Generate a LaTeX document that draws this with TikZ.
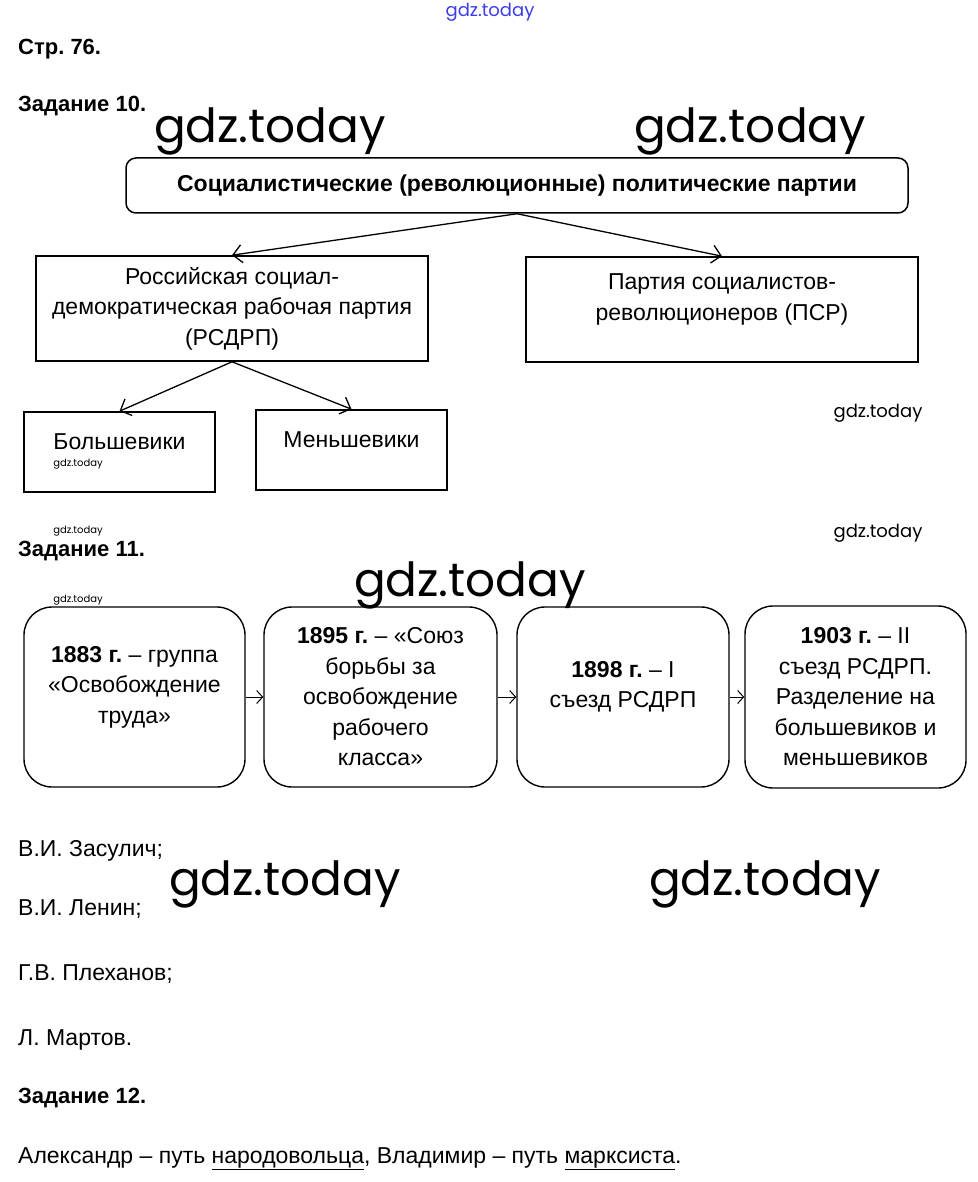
\documentclass[tikz,border=0pt]{standalone}
\usepackage{fontspec}
\setmainfont{Liberation Sans}
\newfontfamily\wmfont{Poppins}
\usetikzlibrary{positioning, arrows.meta}
\frenchspacing

\definecolor{wmblue}{RGB}{60,60,235}

\tikzstyle{startstop} = [
    rectangle,
    rounded corners=10pt,
    minimum width=782pt,
    minimum height=55pt,
    line width=1.5pt,
    draw=black,
    font=\bfseries\fontsize{23}{26}\selectfont
]
\tikzstyle{process} = [
    rectangle,
    minimum width=392pt,
    minimum height=105pt,
    line width=1.6pt,
    draw=black
]
\tikzstyle{event} = [
    rectangle,
    rounded corners=28pt,
    minimum height=180pt,
    line width=1.4pt,
    draw=black
]
\tikzstyle{inbox} = [
    align=center,
    inner sep=0pt,
    font=\fontsize{23}{30.5}\selectfont
]
\tikzstyle{heading} = [anchor=base west, inner sep=0pt, font=\bfseries\fontsize{22}{26}\selectfont]
\tikzstyle{plain} = [anchor=base west, inner sep=0pt, font=\fontsize{23}{26}\selectfont]
\tikzstyle{wmbig} = [inner sep=0pt, font=\wmfont\fontsize{47}{47}\selectfont]
\tikzstyle{wmmid} = [inner sep=0pt, font=\wmfont\fontsize{18}{18}\selectfont]
\tikzstyle{wmsmall} = [inner sep=0pt, font=\wmfont\fontsize{10}{10}\selectfont]
\tikzstyle{arrow} = [line width=1.3pt,-{Straight Barb[length=9pt,width=18pt]}]
\tikzstyle{smallarrow} = [line width=1pt,-{Straight Barb[length=6pt,width=13pt]}]

\begin{document}
\begin{tikzpicture}[x=1pt, y=-1pt]
\useasboundingbox (0,0) rectangle (977,1182);
\fill[white] (0,0) rectangle (977,1182);

% watermarks
\node (wmtop) [wmmid, text=wmblue] at (490,12) {gdz.today};
\node (wma) [wmbig] at (270,131) {gdz.today};
\node (wmb) [wmbig] at (750,131) {gdz.today};
\node (wmc) [wmbig] at (470,585) {gdz.today};
\node (wmd) [wmbig] at (285,884) {gdz.today};
\node (wme) [wmbig] at (765,884) {gdz.today};
\node (wmf) [wmmid] at (878,413) {gdz.today};
\node (wmg) [wmmid] at (878,533) {gdz.today};
\node (wmh) [wmsmall] at (78,464) {gdz.today};
\node (wmi) [wmsmall] at (78,531) {gdz.today};
\node (wmj) [wmsmall] at (78,600) {gdz.today};

% task 10
\node (page) [heading] at (18,55) {Стр. 76.};
\node (task10) [heading] at (18,112) {Задание 10.};

\node (parties) [startstop] at (517,185.5)
{Социалистические (революционные) политические партии};

\node (rsdrp) [process, label={[inbox]center:{Российская социал-\\демократическая рабочая партия\\(РСДРП)}}]
at (232,308.5) {};

\node (psr) [process, label={[inbox,yshift=10pt]center:{Партия социалистов-\\революционеров (ПСР)}}]
at (722,309.5) {};

\node (bolsh) [process, minimum width=191pt, minimum height=80pt,
label={[inbox,yshift=10pt]center:Большевики}] at (119.5,452) {};

\node (mensh) [process, minimum width=191pt, minimum height=80pt,
right=39.4pt of bolsh, yshift=2pt,
label={[inbox,yshift=10pt]center:Меньшевики}] {};

\draw [arrow] (parties.south) -- (rsdrp.north);
\draw [arrow] (parties.south) -- (psr.north);
\draw [arrow] (rsdrp.south) -- (bolsh.north);
\draw [arrow] (rsdrp.south) -- (mensh.north);

% task 11
\node (task11) [heading] at (18,556) {Задание 11.};

\node (e1883) [event, minimum width=221pt,
label={[inbox,yshift=10pt]center:{\textbf{1883 г.} – группа\\«Освобождение\\труда»}}]
at (134.5,697) {};

\node (e1895) [event, minimum width=233pt, right=17.6pt of e1883,
label={[inbox]center:{\textbf{1895 г.} – «Союз\\борьбы за\\освобождение\\рабочего\\класса»}}] {};

\node (e1898) [event, minimum width=212pt, right=18.6pt of e1895,
label={[inbox,yshift=10pt]center:{\textbf{1898 г.} – I\\съезд РСДРП}}] {};

\node (e1903) [event, minimum width=221pt, minimum height=182pt, right=14.6pt of e1898,
label={[inbox]center:{\textbf{1903 г.} – II\\съезд РСДРП.\\Разделение на\\большевиков и\\меньшевиков}}] {};

\draw [smallarrow] (e1883) -- (e1895);
\draw [smallarrow] (e1895) -- (e1898);
\draw [smallarrow] (e1898) -- (e1903);

\node (zasulich) [plain] at (18,856) {В.И. Засулич;};
\node (lenin) [plain] at (18,915) {В.И. Ленин;};
\node (plekhanov) [plain] at (18,980) {Г.В. Плеханов;};
\node (martov) [plain] at (18,1045) {Л. Мартов.};

% task 12
\node (task12) [heading] at (18,1103) {Задание 12.};
\node (answer) [plain] at (18,1163)
{Александр – путь \underline{народовольца}, Владимир – путь \underline{марксиста}.};

\end{tikzpicture}
\end{document}
